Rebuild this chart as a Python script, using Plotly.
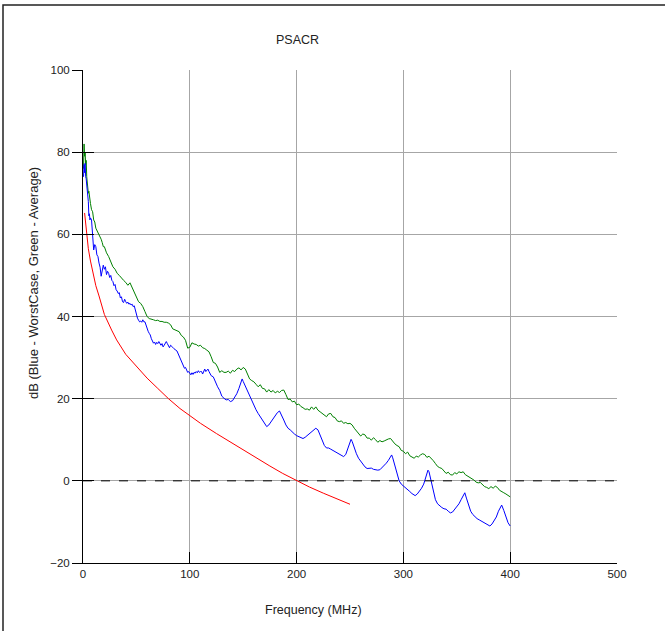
import plotly.graph_objects as go

# ---------------- data ----------------
red_f = [1.5, 2, 3, 3.4, 5, 7, 9, 12, 15, 18.4, 20, 26.8, 31.5, 40, 50, 60, 70, 80,
         90.8, 100, 110, 125, 140, 150, 164, 175, 187, 200, 212, 225, 237, 250]
red_db = [65.2, 64, 61, 60, 56.5, 53.5, 51, 47.5, 45, 41.5, 40.5, 36.7, 34.3, 30.8, 27.8,
          25, 22.5, 20, 17.6, 15.8, 14, 11.5, 9.1, 7.6, 5.2, 3.6, 1.8, 0, -1.5, -3, -4.3, -5.7]

green_f = [0.5, 1, 1.5, 2, 2.5, 3, 3.5, 4, 5, 5.5, 6, 7, 8, 9, 10, 11, 12, 13, 14, 15, 16, 17,
           18, 19, 20, 22, 24, 26, 28, 30, 32, 34, 36, 38, 40, 42, 44, 46, 48, 50, 52, 54, 56,
           58, 60, 62, 64, 66, 68, 70, 72, 74, 76, 78, 80, 82, 84, 86, 88, 90, 92, 94, 96, 98,
           100, 102, 104, 106, 108, 110, 112, 114, 116, 118, 120, 122, 124, 126, 128, 130, 132,
           134, 136, 138, 140, 142, 144, 146, 148, 150, 152, 154, 156, 158, 160, 162, 164, 166,
           168, 170, 172, 174, 176, 178, 180, 182, 184, 186, 188, 190, 192, 194, 196, 198, 200,
           202, 204, 206, 208, 210, 212, 214, 216, 218, 220, 222, 224, 226, 228, 230, 232, 234,
           236, 238, 240, 242, 244, 246, 248, 250, 252, 254, 256, 258, 260, 262, 264, 266, 268,
           270, 272, 274, 276, 278, 280, 282, 284, 286, 288, 290, 292, 294, 296, 298, 300, 302,
           304, 306, 308, 310, 312, 314, 316, 318, 320, 322, 324, 326, 328, 330, 332, 334, 336,
           338, 340, 342, 344, 346, 348, 350, 352, 354, 356, 358, 360, 362, 364, 366, 368, 370,
           372, 374, 376, 378, 380, 382, 384, 386, 388, 390, 392, 394, 396, 398, 400]
green_db = [76, 82, 79, 80, 77, 78, 74, 73, 70, 70.5, 69, 67.5, 66, 65.5, 63.5, 63, 61.5, 61,
            60.5, 60, 59.4, 58.8, 58, 57, 57, 55.5, 54.6, 53.5, 52.1, 51.5, 50.5, 50, 49.3, 48.8,
            48.3, 47.6, 48.2, 47, 45.6, 44.8, 43.6, 43.2, 42.4, 41.2, 40, 39.5, 39.4, 39.2, 39,
            39.1, 38.8, 38.8, 38.6, 38.6, 38.4, 38, 37, 36.8, 36.6, 36.3, 35.4, 35, 34.2, 32.3,
            32.5, 33.6, 33.3, 33.2, 32.8, 33, 32.4, 32.2, 31.8, 31.4, 30.2, 28.8, 28.6, 27.7,
            26.4, 26.8, 26.4, 26.4, 26.7, 26.2, 26.9, 26.6, 27.2, 27.5, 27, 27.6, 27.2, 25.8,
            24.8, 24.4, 24.1, 23.5, 22.9, 23.4, 22.5, 22.4, 21.6, 22.2, 21.6, 22.0, 21.4, 21.8,
            21.5, 22.0, 22.1, 21.0, 19.8, 19.9, 19.2, 19.4, 18.5, 18.7, 18.1, 17.8, 17.4, 17.5,
            17.2, 18.0, 17.4, 18.0, 17.2, 16.8, 16.4, 16.0, 15.6, 16.3, 16.4, 15.6, 15.4, 14.6,
            14.4, 14.6, 14.0, 14.2, 13.9, 14.0, 13.6, 12.8, 12.2, 11.7, 10.9, 11.4, 11.2, 10.4,
            10.4, 9.9, 10.5, 10.0, 9.4, 9.8, 9.5, 9.7, 10.0, 10.2, 10.3, 9.6, 9.0, 8.6, 8.3, 7.4,
            7.2, 6.6, 7.0, 6.1, 5.8, 5.5, 6.0, 5.8, 6.3, 6.6, 6.4, 5.7, 6.0, 5.5, 4.9, 4.2, 3.5,
            3.2, 3.0, 2.4, 1.8, 2.1, 1.5, 1.4, 2.0, 1.7, 2.2, 2.0, 2.2, 1.5, 1.2, 0.9, 0.6, 0.2,
            -0.3, -0.5, -0.4, -1.0, -1.4, -1.6, -1.9, -1.4, -1.8, -1.3, -1.6, -2.3, -2.7, -2.9,
            -3.2, -3.5, -3.9]

blue_f = [0.5, 1, 1.5, 2, 2.5, 3, 3.5, 4, 4.5, 5, 5.5, 6, 6.5, 7, 8, 9, 9.5, 10, 11, 12, 13,
          14, 15, 16, 17, 18, 19, 20, 21, 22, 23, 24, 25, 26, 27, 28, 29, 30, 31, 32, 33, 34,
          35, 36, 37, 38, 39, 40, 41, 42, 43, 44, 45, 46, 47, 48, 49, 50, 51, 52, 53, 54, 55,
          56, 57, 58, 59, 60, 61, 62, 63, 64, 65, 66, 67, 68, 69, 70, 71, 72, 73, 74, 75, 76,
          77, 78, 79, 80, 81, 82, 83, 84, 85, 86, 87, 88, 89, 90, 91, 92, 93, 94, 95, 96, 97,
          98, 99, 100, 101, 102, 103, 104, 105, 106, 107, 108, 109, 110, 111, 112, 113, 114,
          115, 116, 117, 118, 119, 120, 122, 124, 126, 128, 130, 132, 134, 136, 138, 140, 142,
          144, 146, 148, 149, 150, 152, 154, 156, 158, 160, 162, 164, 166, 168, 170, 172, 174,
          176, 178, 180, 182, 184, 186, 188, 190, 192, 194, 196, 198, 200, 202, 204, 206, 208,
          210, 212, 214, 216, 218, 220, 222, 224, 226, 228, 230, 232, 234, 236, 238, 240, 242,
          244, 246, 248, 250, 251, 252, 254, 256, 258, 260, 262, 264, 266, 268, 270, 272, 274,
          276, 278, 280, 282, 284, 286, 288, 289, 290, 292, 294, 296, 298, 300, 302, 304, 306,
          308, 310, 311, 313, 315, 317, 319, 321, 323, 324, 326, 328, 330, 332, 334, 336, 338,
          340, 342, 344, 346, 348, 350, 352, 354, 356, 357.5, 359, 361, 363, 365, 367, 369,
          371, 373, 375, 377, 379, 381, 383, 385, 387, 389, 391, 392, 394, 396, 398, 400]
blue_db = [74, 77, 75, 77.3, 74, 73.5, 72, 71, 70.4, 68, 64.5, 65, 63.5, 64, 63.5, 60, 56.5,
           56.2, 57.5, 57, 55, 54.6, 53, 52, 49.8, 51, 52.5, 51.5, 52.1, 50.2, 51, 50.5, 49.5,
           50, 48.8, 48.5, 47.5, 47.8, 46.5, 46.2, 45.6, 45.8, 44.5, 44.8, 43.6, 43.4, 44.2,
           43.6, 43.2, 43.5, 43, 43.2, 42.8, 43.0, 42.4, 42.6, 41.5, 40.3, 39.6, 39.1, 38.7,
           38.9, 38.6, 39.2, 38.7, 38.7, 37.8, 37, 36.4, 35.9, 35.5, 34.6, 34, 33.5, 33.8, 33.2,
           33.7, 33.4, 33.9, 33.5, 33.0, 33.4, 32.6, 33.0, 33.6, 33.9, 33.4, 33.0, 32.4, 33.0,
           32.6, 32.5, 32.2, 31.9, 31.8, 31.6, 31, 30.2, 29.6, 28.9, 28.4, 28.0, 27.4, 27.6,
           26.9, 26.4, 26.6, 26.0, 25.8, 26.3, 25.9, 26.4, 26.2, 26.6, 26.3, 26.8, 26.4, 26.6,
           26.6, 26.0, 26.5, 27.2, 26.6, 27.0, 27.2, 26.6, 26.0, 25.6, 25.3, 24.0, 22.9, 22.0,
           20.6, 20.1, 19.7, 19.8, 19.3, 19.5, 20.2, 21.2, 22.5, 24.5, 24.8, 24.2, 23.0, 22.0,
           20.9, 19.8, 18.4, 17.3, 16.4, 15.6, 14.6, 13.8, 13.2, 13.6, 14.4, 15.2, 15.9, 16.6,
           17.0, 16.0, 14.8, 13.6, 12.8, 12.4, 11.8, 11.4, 11.0, 10.7, 10.5, 10.3, 10.6, 11.0,
           11.4, 11.9, 12.3, 12.8, 12.4, 11.2, 9.6, 8.6, 8.0, 8.0, 7.7, 7.4, 7.0, 6.6, 6.3, 6.0,
           5.9, 6.4, 7.8, 9.5, 10.1, 9.6, 8.0, 6.6, 5.5, 4.8, 4.0, 3.4, 3.0, 3.0, 3.1, 2.8, 2.7,
           2.6, 2.7, 3.2, 3.7, 4.3, 5.0, 5.9, 6.3, 5.6, 3.5, 1.5, 0.0, -0.8, -1.2, -1.6, -2.0,
           -2.6, -3.1, -3.5, -3.6, -3.2, -2.6, -1.8, -0.8, 0.8, 2.6, 2.2, -0.2, -2.4, -4.6,
           -5.6, -6.1, -6.5, -6.8, -6.9, -7.4, -7.8, -7.6, -7.0, -6.4, -5.6, -4.6, -3.4, -2.9,
           -4.2, -6.0, -7.4, -8.2, -8.8, -9.2, -9.5, -9.8, -10.1, -10.4, -10.8, -11.0, -10.5,
           -9.8, -8.8, -7.4, -6.2, -5.9, -7.2, -8.8, -10.2, -11.0]

x_ticks = [0, 100, 200, 300, 400, 500]
y_ticks = [-20, 0, 20, 40, 60, 80, 100]
ref_level = 0

title_text = "PSACR"
x_title = "Frequency (MHz)"
y_title = "dB (Blue - WorstCase, Green - Average)"

# ---------------- figure ----------------
W, H = 665, 631
L, R, T, B = 83, 48, 70, 68

fig = go.Figure()
fig.add_trace(go.Scatter(x=red_f, y=red_db, mode="lines",
                         line=dict(color="#ff0000", width=1), hoverinfo="skip"))
fig.add_trace(go.Scatter(x=green_f, y=green_db, mode="lines",
                         line=dict(color="#008000", width=1), hoverinfo="skip"))
fig.add_trace(go.Scatter(x=blue_f, y=blue_db, mode="lines",
                         line=dict(color="#0000ff", width=1), hoverinfo="skip"))
# empty trace so the inner-tick overlay axis gets drawn
fig.add_trace(go.Scatter(x=[], y=[], yaxis="y2", mode="lines", hoverinfo="skip"))

font = "Liberation Sans, Arial, sans-serif"

fig.update_layout(
    width=W, height=H,
    margin=dict(l=L, r=R, t=T, b=B, pad=0),
    paper_bgcolor="white", plot_bgcolor="white",
    showlegend=False,
    font=dict(family=font, size=11, color="#222222"),
    xaxis=dict(range=[0, 500], tickvals=x_ticks, ticks="inside", ticklen=11,
               tickcolor="black", tickwidth=1, showline=True, linecolor="black",
               linewidth=1, showgrid=True, gridcolor="#a6a6a6", gridwidth=1,
               zeroline=False, tickfont=dict(size=11.5, color="#222222")),
    yaxis=dict(range=[-20, 100], tickvals=y_ticks, ticks="outside", ticklen=10,
               tickcolor="black", tickwidth=1, showline=True, linecolor="black",
               linewidth=1, showgrid=True, gridcolor="#a6a6a6", gridwidth=1,
               zeroline=False, tickfont=dict(size=11.5, color="#222222")),
    yaxis2=dict(overlaying="y", range=[-20, 100], side="left", tickvals=y_ticks,
                ticks="inside", ticklen=11, tickcolor="black", tickwidth=1,
                showticklabels=False, showgrid=False, showline=False, zeroline=False),
)

# zero reference (dashed)
fig.add_shape(type="line", xref="x", yref="y", x0=0, x1=500, y0=ref_level, y1=ref_level,
              line=dict(color="black", width=1, dash="dash"))

# outer frame (extends beyond right/bottom edges)
pw, ph = W - L - R, H - T - B
fig.add_shape(type="rect", xref="paper", yref="paper",
              x0=(3 - L) / pw, x1=(W + 20 - L) / pw,
              y0=-(B + 20) / ph, y1=(H - B - 5) / ph,
              line=dict(color="#222222", width=1.5), layer="above")

# titles as positioned text
fig.add_annotation(text=title_text, xref="paper", yref="paper",
                   x=(297 - L) / pw, y=(H - B - 40) / ph, showarrow=False,
                   font=dict(size=12.5, color="#222222"), xanchor="center", yanchor="middle")
fig.add_annotation(text=x_title, xref="paper", yref="paper",
                   x=(313 - L) / pw, y=(H - B - 610) / ph, showarrow=False,
                   font=dict(size=12.5, color="#222222"), xanchor="center", yanchor="middle")
fig.add_annotation(text=y_title, xref="paper", yref="paper", textangle=-90,
                   x=(33 - L) / pw, y=(H - B - 283) / ph, showarrow=False,
                   font=dict(size=13, color="#222222"), xanchor="center", yanchor="middle")

fig.write_html("out.html", config={"displayModeBar": False},
               post_script="document.body.style.margin='0';")
